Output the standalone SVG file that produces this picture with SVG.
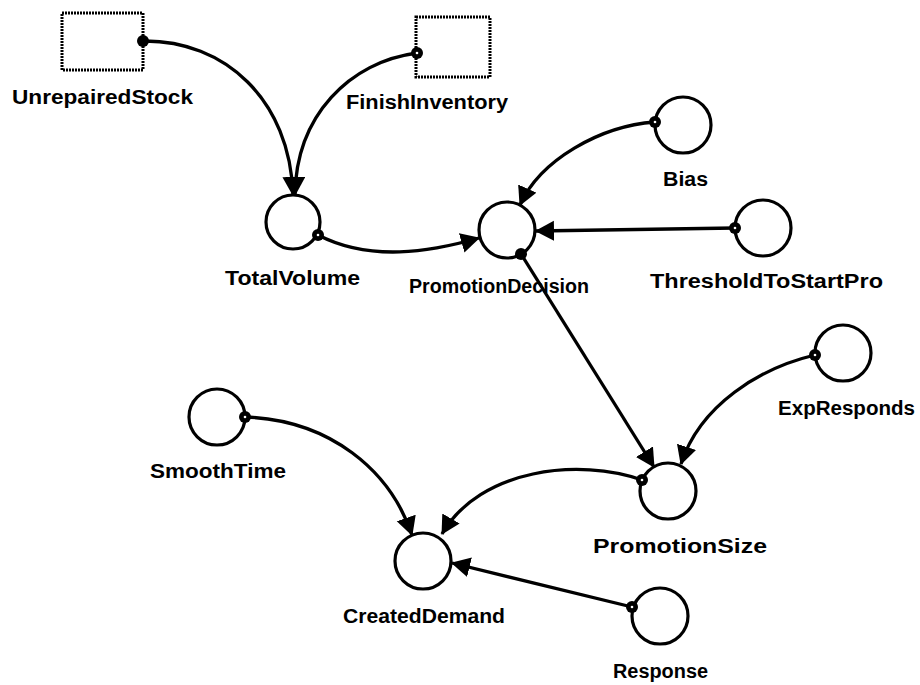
<svg xmlns="http://www.w3.org/2000/svg" width="920" height="685" viewBox="0 0 920 685">
<defs>
<marker id="ah" markerUnits="userSpaceOnUse" markerWidth="22" markerHeight="22" refX="18" refY="10" orient="auto">
<path d="M0,0 L19,10 L0,20 z" fill="#000"/>
</marker>
<style>
.stock{fill:#fff;stroke:#000;stroke-width:3;stroke-dasharray:2 1}
.aux{fill:#fff;stroke:#000;stroke-width:3.2}
.lk{fill:none;stroke:#000;stroke-width:3.3;marker-end:url(#ah)}
.dot{fill:#000}
.dh{fill:#fff}
text{font-family:"Liberation Sans",Arial,sans-serif;font-weight:bold;font-size:20px;fill:#000}
</style>
</defs>
<rect width="920" height="685" fill="#fff"/>
<g id="connectors">
<path class="lk" d="M143,41 C225,40 290,100 293,195"/>
<path class="lk" d="M417,53 C350,62 296,115 295,195"/>
<path class="lk" d="M318,235 C370,262 430,252 479,238"/>
<path class="lk" d="M655,122 C600,126 540,160 520,205"/>
<path class="lk" d="M735,228 L536,231"/>
<path class="lk" d="M521,254 L654,467"/>
<path class="lk" d="M815,355 C760,368 700,405 681,464"/>
<path class="lk" d="M642,480 C580,458 480,468 442,534"/>
<path class="lk" d="M245,417 C330,420 390,470 412,535"/>
<path class="lk" d="M632,607 L452,563"/>
</g>
<g id="UnrepairedStock">
<rect class="stock" x="62" y="13" width="81" height="57"/>
<circle class="dot" cx="143" cy="41" r="6"/>
<text x="12" y="104" textLength="181" lengthAdjust="spacingAndGlyphs">UnrepairedStock</text>
</g>
<g id="FinishInventory">
<rect class="stock" x="416" y="17" width="74" height="60"/>
<circle class="dot" cx="417" cy="53" r="6"/><circle class="dh" cx="417" cy="53" r="1.3"/>
<text x="346" y="109" textLength="162" lengthAdjust="spacingAndGlyphs">FinishInventory</text>
</g>
<g id="TotalVolume">
<circle class="aux" cx="293" cy="222" r="27"/>
<circle class="dot" cx="318" cy="235" r="6"/><circle class="dh" cx="318" cy="235" r="1.3"/>
<text x="225" y="285" textLength="135" lengthAdjust="spacingAndGlyphs">TotalVolume</text>
</g>
<g id="PromotionDecision">
<circle class="aux" cx="507" cy="230" r="28"/>
<circle class="dot" cx="521" cy="254" r="6"/>
<text x="409" y="293" textLength="180" lengthAdjust="spacingAndGlyphs">PromotionDecision</text>
</g>
<g id="Bias">
<circle class="aux" cx="683" cy="125" r="28"/>
<circle class="dot" cx="655" cy="122" r="6"/><circle class="dh" cx="655" cy="122" r="1.3"/>
<text x="663" y="186" textLength="45" lengthAdjust="spacingAndGlyphs">Bias</text>
</g>
<g id="ThresholdToStartPro">
<circle class="aux" cx="763" cy="228" r="28"/>
<circle class="dot" cx="735" cy="228" r="6"/><circle class="dh" cx="735" cy="228" r="1.3"/>
<text x="650" y="288" textLength="233" lengthAdjust="spacingAndGlyphs">ThresholdToStartPro</text>
</g>
<g id="ExpResponds">
<circle class="aux" cx="843" cy="353" r="28"/>
<circle class="dot" cx="815" cy="355" r="6"/><circle class="dh" cx="815" cy="355" r="1.3"/>
<text x="778" y="415" textLength="137" lengthAdjust="spacingAndGlyphs">ExpResponds</text>
</g>
<g id="PromotionSize">
<circle class="aux" cx="668" cy="491" r="28"/>
<circle class="dot" cx="642" cy="480" r="6"/><circle class="dh" cx="642" cy="480" r="1.3"/>
<text x="593" y="553" textLength="174" lengthAdjust="spacingAndGlyphs">PromotionSize</text>
</g>
<g id="SmoothTime">
<circle class="aux" cx="217" cy="417" r="28"/>
<circle class="dot" cx="245" cy="417" r="6"/><circle class="dh" cx="245" cy="417" r="1.3"/>
<text x="150" y="478" textLength="136" lengthAdjust="spacingAndGlyphs">SmoothTime</text>
</g>
<g id="CreatedDemand">
<circle class="aux" cx="423" cy="561" r="28"/>
<text x="343" y="623" textLength="162" lengthAdjust="spacingAndGlyphs">CreatedDemand</text>
</g>
<g id="Response">
<circle class="aux" cx="660" cy="616" r="28"/>
<circle class="dot" cx="632" cy="607" r="6"/><circle class="dh" cx="632" cy="607" r="1.3"/>
<text x="613" y="678" textLength="95" lengthAdjust="spacingAndGlyphs">Response</text>
</g>
</svg>
